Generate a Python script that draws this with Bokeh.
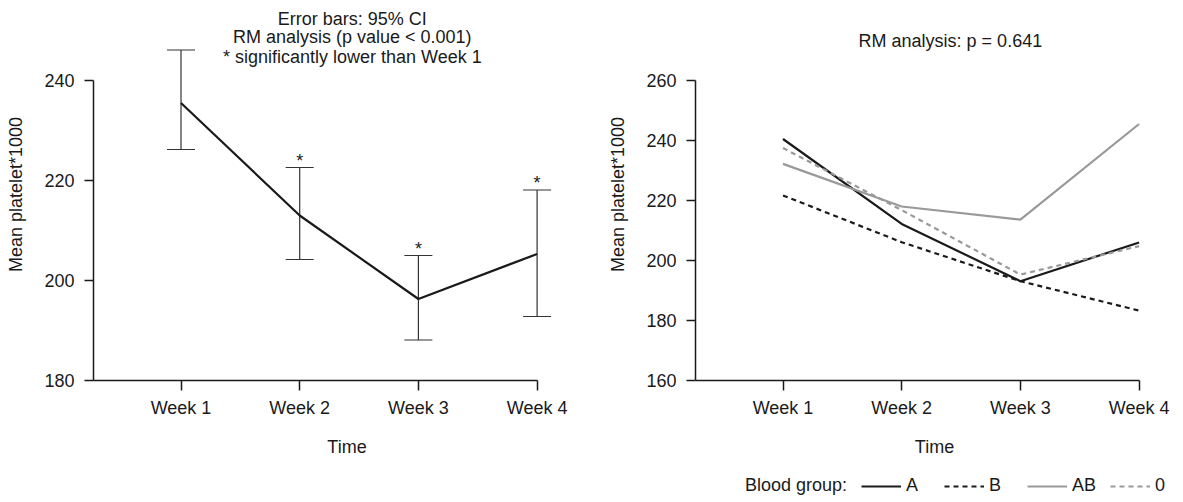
from bokeh.plotting import figure
from bokeh.models import (ColumnDataSource, Whisker, TeeHead, Label, LinearAxis,
                          FixedTicker, Legend, LegendItem, Range1d)
from bokeh.layouts import row, column
from bokeh.embed import file_html
from bokeh.resources import INLINE
from bokeh.core.properties import value

# ---------------- data ----------------
weeks = ["Week 1", "Week 2", "Week 3", "Week 4"]

mean_platelet = [235.5, 213.0, 196.3, 205.3]
ci_lower = [226.2, 204.2, 188.1, 192.8]
ci_upper = [246.1, 222.6, 205.0, 218.1]
sig_marks = ["", "*", "*", "*"]
left_title_lines = ["Error bars: 95% CI",
                    "RM analysis (p value < 0.001)",
                    "* significantly lower than Week 1"]
left_yticks = [180, 200, 220, 240]

blood_groups = ["A", "B", "AB", "0"]
group_A = [240.5, 212.2, 193.1, 206.0]
group_B = [221.7, 206.1, 193.1, 183.3]
group_AB = [232.2, 218.0, 213.6, 245.5]
group_0 = [237.5, 216.8, 195.3, 204.8]
right_title = "RM analysis: p = 0.641"
right_yticks = [160, 180, 200, 220, 240, 260]

y_label = "Mean platelet*1000"
x_label = "Time"
legend_title = "Blood group:"

# ---------------- style ----------------
FONT = "Liberation Sans"
INK = "#1a1a1a"
GREY = "#999999"
FS = "18px"
FRAME_H = 372
BT, BL, BR = 8, 93, 2
PX = 118.7                      # px per week
X0 = 1 - 87.5 / PX              # x-range start (axis line position)
W1, W2 = 602, 573
LEG_H = 30

pos = [i + 1 for i in range(len(weeks))]
week_labels = {p_: w for p_, w in zip(pos, weeks)}


def make_fig(width, height, y0, px_per_unit, yticks):
    frame_w = width - BL - BR
    bb = height - BT - FRAME_H
    p = figure(width=width, height=height,
               x_range=Range1d(X0, X0 + frame_w / PX),
               y_range=Range1d(y0, y0 + FRAME_H / px_per_unit),
               output_backend="svg", toolbar_location=None,
               min_border_left=BL, min_border_right=BR,
               min_border_top=BT, min_border_bottom=bb)
    p.grid.visible = False
    p.outline_line_color = None

    xa = p.xaxis[0]
    xa.ticker = FixedTicker(ticks=pos)
    xa.major_label_overrides = week_labels
    xa.bounds = (X0, pos[-1])
    ya = p.yaxis[0]
    ya.ticker = FixedTicker(ticks=yticks)
    ya.bounds = (yticks[0], yticks[-1])
    ya.axis_label = y_label
    ya.axis_label_standoff = 15
    xa.major_label_standoff = 7
    ya.major_label_standoff = 10
    xa.major_tick_out = 10
    ya.major_tick_out = 9
    for ax in (xa, ya):
        ax.major_tick_in = 0
        ax.minor_tick_in = 0
        ax.minor_tick_out = 0
        ax.axis_line_color = INK
        ax.axis_line_width = 1.5
        ax.major_tick_line_color = INK
        ax.major_tick_line_width = 1.5
        ax.major_label_text_font = FONT
        ax.major_label_text_font_size = FS
        ax.major_label_text_color = INK
        ax.axis_label_text_font = FONT
        ax.axis_label_text_font_size = FS
        ax.axis_label_text_font_style = "normal"
        ax.axis_label_text_color = INK

    # second, line-less axis that only carries the "Time" label, centred on the weeks
    mid = (pos[0] + pos[-1]) / 2
    ta = LinearAxis(ticker=FixedTicker(ticks=[mid]),
                    major_label_overrides={mid: " "},
                    bounds=(pos[0], pos[-1]),
                    axis_label=x_label, axis_line_color=None,
                    major_tick_line_color=None,
                    major_tick_out=0, major_tick_in=0,
                    minor_tick_out=0, minor_tick_in=0,
                    major_label_standoff=0,
                    major_label_text_font_size="8px",
                    major_label_text_alpha=0,
                    axis_label_standoff=16,
                    axis_label_text_font=FONT, axis_label_text_font_size=FS,
                    axis_label_text_font_style="normal",
                    axis_label_text_color=INK)
    p.add_layout(ta, "below")
    return p


# ---------------- left panel ----------------
p1 = make_fig(W1, 500, 180, 5.0, left_yticks)
src = ColumnDataSource(dict(x=pos, mean=mean_platelet, lower=ci_lower,
                            upper=ci_upper, sig=sig_marks))
wh = Whisker(base="x", upper="upper", lower="lower", source=src,
             dimension="height", line_color="#333333", line_width=1.2,
             upper_head=TeeHead(size=28, line_color="#333333", line_width=1.2),
             lower_head=TeeHead(size=28, line_color="#333333", line_width=1.2))
p1.add_layout(wh)
p1.line(x="x", y="mean", source=src, line_color=INK, line_width=2.2)
p1.text(x="x", y="upper", text="sig", source=src, text_font=value(FONT),
        text_font_size=FS, text_align="center", text_baseline="alphabetic",
        y_offset=-7, text_color=INK)

left_title_y = [252.3, 248.8, 244.7]
for txt, ty in zip(left_title_lines, left_title_y):
    p1.add_layout(Label(x=2.443, y=ty, text=txt, text_align="center",
                        text_baseline="middle", text_font=FONT,
                        text_font_size=FS, text_color=INK))

# ---------------- right panel ----------------
p2 = make_fig(W2, 500 - LEG_H, 160, 3.0, right_yticks)
series = [group_A, group_B, group_AB, group_0]
styles = [(INK, "solid"), (INK, "5 4"), (GREY, "solid"), (GREY, "5 4")]

for name, vals, (col, dash) in zip(blood_groups, series, styles):
    p2.line(x=pos, y=vals, line_color=col, line_dash=dash, line_width=2.2)

p2.add_layout(Label(x=2.41, y=273.1, text=right_title, text_align="center",
                    text_baseline="middle", text_font=FONT,
                    text_font_size=FS, text_color=INK))

# ---------------- legend strip under the right panel ----------------
pleg = figure(width=W2, height=LEG_H, x_axis_type=None, y_axis_type=None,
              x_range=Range1d(100, 101), y_range=Range1d(1000, 1001),
              output_backend="svg", toolbar_location=None, min_border=0)
pleg.outline_line_color = None
pleg.grid.visible = False

r_title = pleg.line(x=[pos[0]], y=[right_yticks[0]], line_alpha=0)
items = [LegendItem(label=legend_title, renderers=[r_title])]
for name, vals, (col, dash) in zip(blood_groups, series, styles):
    r = pleg.line(x=pos, y=vals, line_color=col, line_dash=dash, line_width=2.2)
    items.append(LegendItem(label=name, renderers=[r]))

legend = Legend(items=items, orientation="horizontal", location=(5, 4),
                label_text_font=FONT, label_text_font_size=FS,
                label_text_color=INK, glyph_width=40, glyph_height=20,
                label_standoff=5, spacing=14, label_width=24, padding=0,
                margin=0, border_line_color=None, background_fill_alpha=0)
pleg.add_layout(legend)

layout = row(p1, column(p2, pleg))
open("out.html", "w").write(file_html(layout, INLINE))
